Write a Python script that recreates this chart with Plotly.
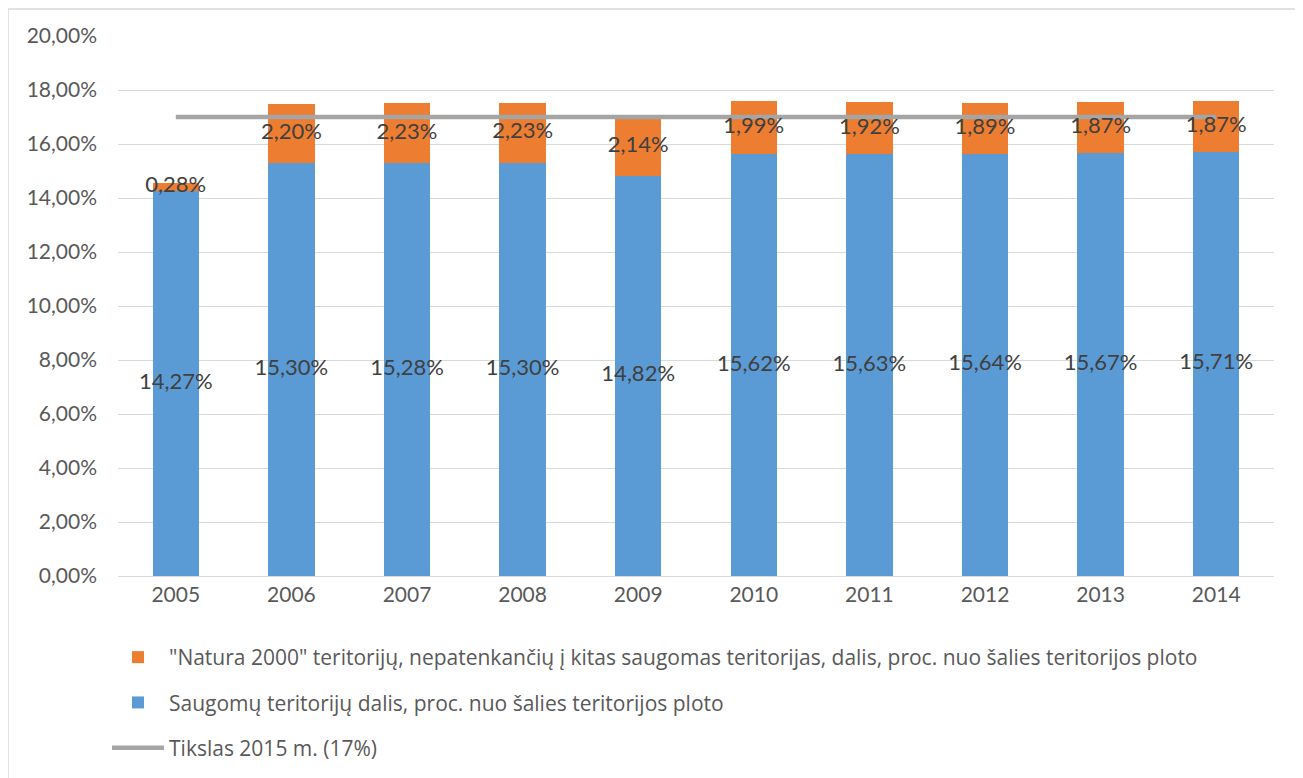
import plotly.graph_objects as go

years = ["2005", "2006", "2007", "2008", "2009", "2010", "2011", "2012", "2013", "2014"]
saugomos = [14.27, 15.30, 15.28, 15.30, 14.82, 15.62, 15.63, 15.64, 15.67, 15.71]
natura = [0.28, 2.20, 2.23, 2.23, 2.14, 1.99, 1.92, 1.89, 1.87, 1.87]
tikslas = [17] * len(years)

name_natura = '"Natura 2000" teritorijų, nepatenkančių į kitas saugomas teritorijas, dalis, proc. nuo šalies teritorijos ploto'
name_saug = "Saugomų teritorijų dalis, proc. nuo šalies teritorijos ploto"
name_line = "Tikslas 2015 m. (17%)"

FONT = "Lato, Noto Sans, sans-serif"
LEG_FONT = "Open Sans, Lato, sans-serif"

def fmt(v):
    return f"{v:.2f}".replace(".", ",") + "%"

W, H = 1295, 770
L, R, T, B = 110, 29, 28, 202
PW, PH = W - L - R, H - T - B

fig = go.Figure()
fig.add_trace(go.Bar(x=years, y=saugomos, name=name_saug, marker_color="#5B9BD5",
                     marker_line_width=0, legendrank=2, legendgroup="b"))
fig.add_trace(go.Bar(x=years, y=natura, name=name_natura, marker_color="#ED7D31",
                     marker_line_width=0, legendrank=1, legendgroup="a"))
fig.add_trace(go.Scatter(x=years, y=tikslas, name=name_line, mode="lines",
                         line=dict(color="#A5A5A5", width=4.5), legendrank=3, legendgroup="c"))
# data labels
fig.add_trace(go.Scatter(x=years, y=[v / 2 for v in saugomos], mode="text",
                         text=[fmt(v) for v in saugomos], showlegend=False,
                         textfont=dict(family=FONT, size=22, color="#404040"), hoverinfo="skip"))
fig.add_trace(go.Scatter(x=years, y=[b + n / 2 for b, n in zip(saugomos, natura)], mode="text",
                         text=[fmt(v) for v in natura], showlegend=False,
                         textfont=dict(family=FONT, size=22, color="#404040"), hoverinfo="skip"))

fig.update_layout(
    width=W, height=H,
    margin=dict(l=L, r=R, t=T, b=B, autoexpand=False),
    barmode="stack", bargap=0.6,
    plot_bgcolor="white", paper_bgcolor="white",
    separators=", ",
    font=dict(family=FONT, color="#595959", size=18),
    showlegend=True,
    legend=dict(x=-0.0095, xanchor="left", y=-61 / PH, yanchor="top",
                traceorder="grouped", tracegroupgap=15,
                font=dict(family=LEG_FONT, size=21, color="#595959"),
                itemwidth=52),
    xaxis=dict(type="category", showgrid=False, showline=True, linecolor="#D9D9D9",
               linewidth=1, ticks="", tickfont=dict(size=21, color="#595959")),
    yaxis=dict(range=[0, 20], dtick=2, tickformat=".2f", ticksuffix="%",
               showgrid=True, gridcolor="#D9D9D9", gridwidth=1, zeroline=False,
               ticks="", tickfont=dict(size=21, color="#595959"), ticklabelstandoff=20),
    shapes=[dict(type="rect", xref="paper", yref="paper",
                 x0=(0 - L) / PW, x1=(1290 - L) / PW,
                 y0=-0.5, y1=(T + PH - 1) / PH,
                 line=dict(color="#D9D9D9", width=1.5), fillcolor="rgba(0,0,0,0)", layer="below")],
)

fig.write_html("out.html")
